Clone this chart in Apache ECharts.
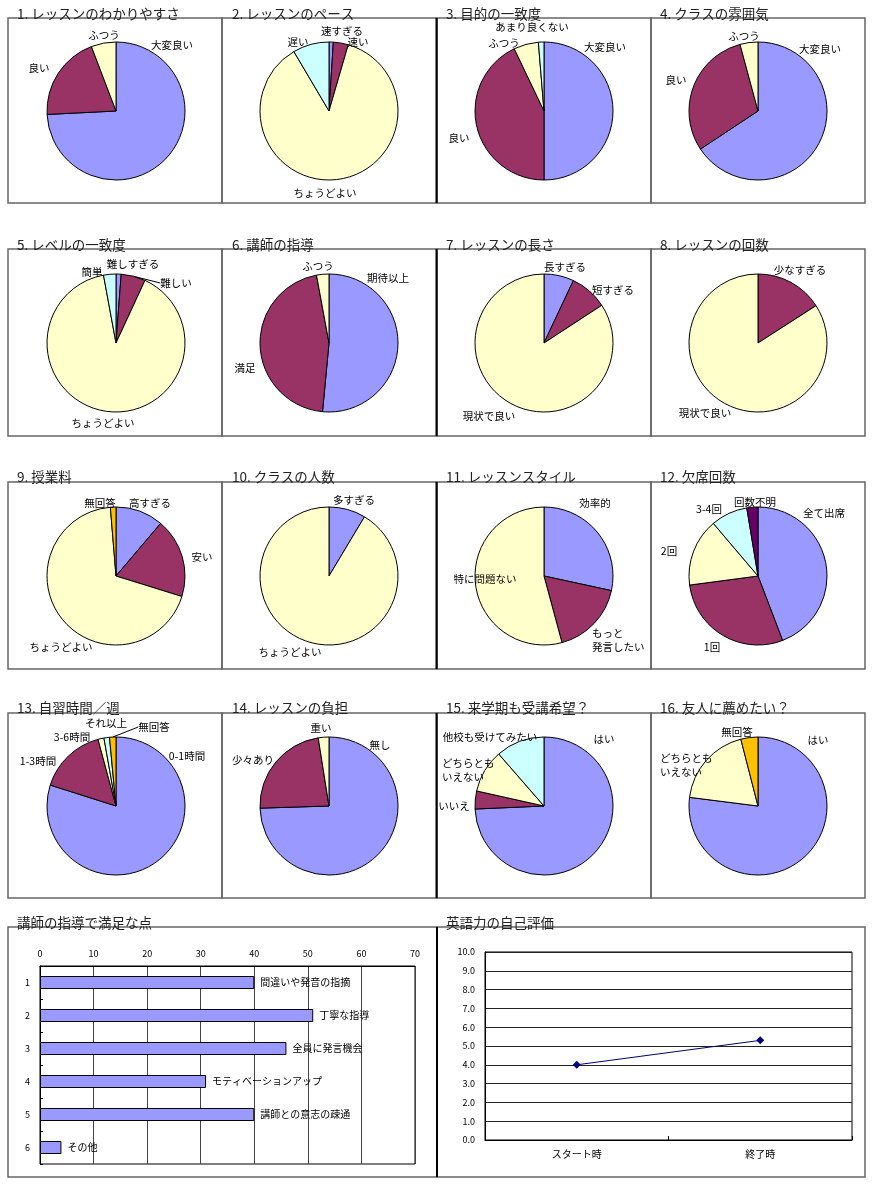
<!DOCTYPE html>
<html><head><meta charset="utf-8">
<script src="https://cdn.jsdelivr.net/npm/echarts@6/dist/echarts.min.js"></script>
<style>html,body{margin:0;padding:0;background:#fff}#c{width:877px;height:1197px}</style>
</head><body><div id="c"></div>
<script>
// ---- data ----
const pieTitles = ['1. レッスンのわかりやすさ','2. レッスンのペース','3. 目的の一致度','4. クラスの雰囲気',
  '5. レベルの一致度','6. 講師の指導','7. レッスンの長さ','8. レッスンの回数',
  '9. 授業料','10. クラスの人数','11. レッスンスタイル','12. 欠席回数',
  '13. 自習時間／週','14. レッスンの負担','15. 来学期も受講希望？','16. 友人に薦めたい？'];
const pieCategories = [
  ['大変良い','良い','ふつう'],
  ['速すぎる','速い','ちょうどよい','遅い'],
  ['大変良い','良い','ふつう','あまり良くない'],
  ['大変良い','良い','ふつう'],
  ['難しすぎる','難しい','ちょうどよい','簡単'],
  ['期待以上','満足','ふつう'],
  ['長すぎる','短すぎる','現状で良い'],
  ['少なすぎる','現状で良い'],
  ['高すぎる','安い','ちょうどよい','無回答'],
  ['多すぎる','ちょうどよい'],
  ['効率的','もっと発言したい','特に問題ない'],
  ['全て出席','1回','2回','3-4回','回数不明'],
  ['0-1時間','1-3時間','3-6時間','それ以上','無回答'],
  ['無し','少々あり','重い'],
  ['はい','いいえ','どちらともいえない','他校も受けてみたい'],
  ['はい','どちらともいえない','無回答']
];
const pieValues = [
  [74.2, 20.0, 5.8],
  [1.0, 3.5, 87.0, 8.5],
  [50.0, 42.9, 5.8, 1.3],
  [65.7, 30.1, 4.2],
  [1.2, 5.7, 90.2, 2.9],
  [51.5, 45.6, 2.9],
  [7.0, 8.8, 84.2],
  [15.9, 84.1],
  [11.2, 18.6, 68.9, 1.3],
  [8.6, 91.4],
  [28.4, 17.4, 54.2],
  [44.2, 28.7, 15.9, 8.6, 2.6],
  [79.9, 15.9, 1.4, 1.3, 1.5],
  [74.5, 23.0, 2.5],
  [74.3, 4.2, 10.1, 11.4],
  [77.0, 19.0, 4.0]
];
const barTitle = '講師の指導で満足な点';
const barCategories = ['1','2','3','4','5','6'];
const barNames = ['間違いや発音の指摘','丁寧な指導','全員に発言機会','モティベーションアップ','講師との意志の疎通','その他'];
const barValues = [40, 51, 46, 31, 40, 4];
const lineTitle = '英語力の自己評価';
const lineCategories = ['スタート時','終了時'];
const lineValues = [4.0, 5.3];

// ---- styles / layout ----
const B='#9999FF', M='#993366', Y='#FFFFCC', C='#CCFFFF', P='#660066', O='#FFC000';
const pieColors = [
  [B,M,Y],[B,M,Y,C],[B,M,Y,C],[B,M,Y],
  [B,M,Y,C],[B,M,Y],[B,M,Y],[M,Y],
  [B,M,Y,O],[B,Y],[B,M,Y],[B,M,Y,C,P],
  [B,M,Y,C,O],[B,M,Y],[B,M,Y,C],[B,Y,O]
];
const colX = [116, 329, 544, 758];
const rowY = [111, 343, 576, 806];
const panelX = [[8,222],[222,437],[437,651],[651,865]];
const panelY = [[18,203],[249,436],[482,669],[713,898]];
const titleX = [12, 227, 441, 655];
const titleY = [2, 233, 465, 696];
// label anchor positions [x, y, align]
const labelPos = [
  [[172,45],[39,68],[104,35]],
  [[342,31],[358,42],[325,193],[298,42]],
  [[605,47],[459,138],[504,43],[532,27]],
  [[820,49],[676,80],[744,36]],
  [[133,264],[176,283],[103,423],[92,272]],
  [[388,278],[245,368],[318,266]],
  [[565,267],[613,290],[489,416]],
  [[800,270],[705,413]],
  [[150,503],[202,557],[61,647],[100,503]],
  [[354,500],[290,652]],
  [[595,503],[592,640,'left'],[485,579]],
  [[824,513],[712,647],[669,551],[709,509],[755,502]],
  [[187,756],[38,761],[72,737],[106,723],[154,727]],
  [[380,745],[253,760],[321,728]],
  [[604,739],[454,806],[442,770,'left'],[490,737]],
  [[818,740],[660,765,'left'],[737,732]]
];
const withLine = {'4-1':true, '12-4':true};
const wrap = {'もっと発言したい':'もっと\n発言したい','どちらともいえない':'どちらとも\nいえない'};
const FONT = '"Noto Sans CJK JP", "Noto Sans", sans-serif';

const series = [];
const titles = [];
const graphics = [];
for (let i = 0; i < 16; i++) {
  const r = Math.floor(i / 4), c = i % 4;
  titles.push({text: pieTitles[i], left: titleX[c], top: titleY[r],
    textStyle: {fontSize: 13.5, fontWeight: 'normal', color: '#222', fontFamily: FONT}});
  graphics.push({type:'rect', shape:{x:panelX[c][0], y:panelY[r][0], width:panelX[c][1]-panelX[c][0], height:panelY[r][1]-panelY[r][0]},
    style:{fill:'none', stroke:'#666', lineWidth:1.5}, z:0});
  series.push({
    type: 'pie', center: [colX[c], rowY[r]], radius: 69, startAngle: 90, clockwise: true,
    silent: true,
    itemStyle: {borderColor: '#000', borderWidth: 1},
    label: {show: true, position: 'outside', fontSize: 10.5, color: '#000', fontFamily: FONT, lineHeight: 14,
      overflow: 'none', formatter: p => wrap[p.name] || p.name},
    labelLine: {show: false, length: 4, length2: 0, lineStyle: {color: '#000', width: 1}},
    labelLayout: (function(si){ return function(params){
      const lp = labelPos[si][params.dataIndex];
      if (!lp) return {};
      const align = lp[2] || 'center';
      const out = {x: lp[0], y: lp[1], align: align, verticalAlign: 'middle'};
      if (!withLine[si + '-' + params.dataIndex]) out.width = 200;
      return out;
    };})(i),
    data: pieCategories[i].map((n, k) => ({
      name: n, value: pieValues[i][k], itemStyle: {color: pieColors[i][k]},
      labelLine: {show: !!withLine[i + '-' + k]}
    }))
  });
}
for (let r = 0; r < 4; r++) {
  graphics.push({type:'line', shape:{x1:436.5, y1:panelY[r][0], x2:436.5, y2:panelY[r][1]}, style:{stroke:'#000', lineWidth:2}, z:1});
}
// bottom panels
titles.push({text: barTitle, left: 12, top: 911, textStyle: {fontSize: 13.5, fontWeight:'normal', color:'#222', fontFamily: FONT}});
titles.push({text: lineTitle, left: 441, top: 911, textStyle: {fontSize: 13.5, fontWeight:'normal', color:'#222', fontFamily: FONT}});
graphics.push({type:'rect', shape:{x:8, y:927, width:429, height:250}, style:{fill:'none', stroke:'#666', lineWidth:1.5}, z:0});
graphics.push({type:'rect', shape:{x:437, y:927, width:428, height:250}, style:{fill:'none', stroke:'#666', lineWidth:1.5}, z:0});
graphics.push({type:'line', shape:{x1:437, y1:927, x2:437, y2:1177}, style:{stroke:'#000', lineWidth:2}, z:1});

series.push({
  type: 'bar', xAxisIndex: 0, yAxisIndex: 0, barWidth: 13, silent: true,
  itemStyle: {color: B, borderColor: '#000', borderWidth: 1},
  label: {show: true, position: 'right', distance: 6, fontSize: 10, color: '#000', fontFamily: FONT,
    formatter: p => barNames[p.dataIndex]},
  data: barValues
});
series.push({
  type: 'line', xAxisIndex: 1, yAxisIndex: 1, silent: true,
  symbol: 'diamond', symbolSize: 8,
  lineStyle: {color: '#000080', width: 1},
  itemStyle: {color: '#000080'},
  data: lineValues
});

const chart = echarts.init(document.getElementById('c'), null, {renderer: 'canvas'});
chart.setOption({
  animation: false,
  backgroundColor: '#fff',
  textStyle: {fontFamily: FONT},
  title: titles,
  graphic: graphics,
  grid: [
    {left: 40, top: 966, width: 375, height: 198, show: true, borderColor: '#000', borderWidth: 1, backgroundColor: 'transparent'},
    {left: 485, top: 952, width: 367, height: 188, show: true, borderColor: '#000', borderWidth: 1, backgroundColor: 'transparent'}
  ],
  xAxis: [
    {type: 'value', gridIndex: 0, position: 'top', min: 0, max: 70, interval: 10,
      axisLine: {show: true, lineStyle: {color: '#000'}}, axisTick: {show: false},
      axisLabel: {fontSize: 9, color: '#000', margin: 8},
      splitLine: {show: true, lineStyle: {color: '#444', width: 1}}},
    {type: 'category', gridIndex: 1, data: lineCategories, boundaryGap: true,
      axisLine: {show: true, lineStyle: {color: '#000'}},
      axisTick: {show: true, inside: true, length: 4, lineStyle: {color: '#000'}},
      axisLabel: {fontSize: 10, color: '#000', margin: 9}}
  ],
  yAxis: [
    {type: 'category', gridIndex: 0, data: barCategories, inverse: true,
      axisLine: {show: true, lineStyle: {color: '#000'}},
      axisTick: {show: true, inside: true, length: 3, lineStyle: {color: '#000'}},
      axisLabel: {fontSize: 9, color: '#000', margin: 10}},
    {type: 'value', gridIndex: 1, min: 0, max: 10, interval: 1,
      axisLine: {show: true, lineStyle: {color: '#000'}}, axisTick: {show: false},
      axisLabel: {fontSize: 9, color: '#000', margin: 10, formatter: v => v.toFixed(1)},
      splitLine: {show: true, lineStyle: {color: '#222', width: 1}}}
  ],
  series: series
});
</script></body></html>
